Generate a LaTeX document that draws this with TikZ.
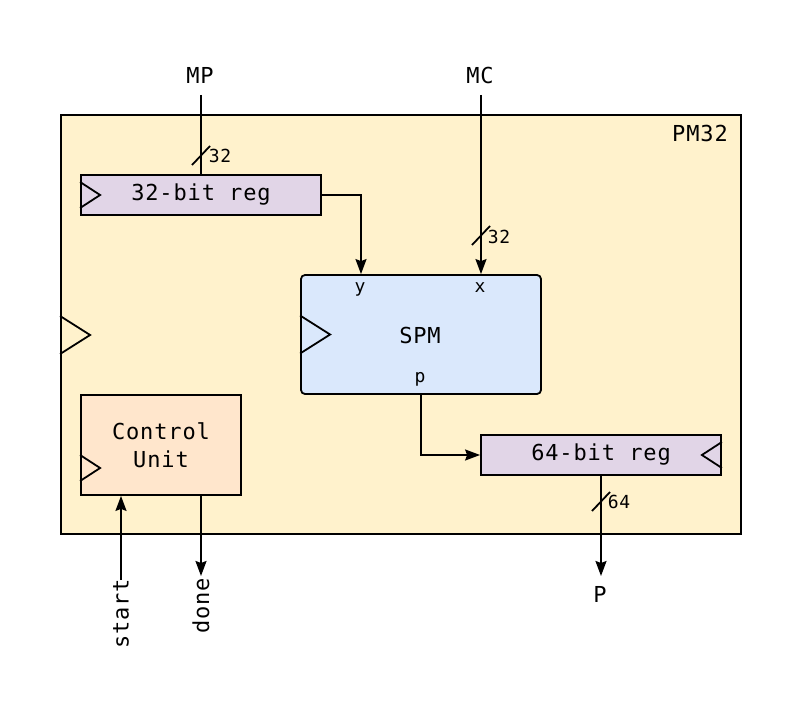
\documentclass[tikz,border=0pt]{standalone}
\usepackage{fontspec}
\newfontfamily\dmono[LetterSpace=4]{DejaVu Sans Mono}
\usetikzlibrary{arrows.meta,calc}
\definecolor{outerfill}{HTML}{FFF2CC}
\definecolor{regfill}{HTML}{E1D5E7}
\definecolor{spmfill}{HTML}{DAE8FC}
\definecolor{cufill}{HTML}{FFE6CC}
\begin{document}
\begin{tikzpicture}[x=1pt,y=-1pt,
  line width=1.8pt,
  big/.style={font=\dmono\fontsize{22}{28}\selectfont, inner sep=0pt},
  small/.style={font=\dmono\fontsize{18}{20}\selectfont, inner sep=0pt},
  blk/.style={draw=black, line width=1.8pt, inner sep=0pt, font=\dmono\fontsize{22}{28}\selectfont},
  arr/.style={-{Stealth[length=15pt,width=11pt,inset=2pt]}},
  clk/.style={line width=1.8pt, line join=miter}
]
\useasboundingbox (0,0) rectangle (802,714);

% outer block
\node[blk, fill=outerfill, minimum width=680pt, minimum height=419pt] (outer) at (401,324.5) {};
\node[big] (pm) at (700,133) {PM32};
\draw[clk] (outer.west) ++(0,-8.5) -- ++(30,19) -- ++(-30,19);

% registers and blocks
\node[blk, fill=regfill, minimum width=240pt, minimum height=40pt] (reg32) at (201,195) {32-bit reg};
\draw[clk] (reg32.west) ++(0,-13) -- ++(20,13) -- ++(-20,13);

\node[blk, fill=spmfill, rounded corners=4pt, minimum width=240pt, minimum height=119pt] (spm) at (421,334.5) {};
\node[big] (spmlbl) at (420,335) {SPM};
\node[small, anchor=base] (py) at (360,292) {y};
\node[small, anchor=base] (px) at (480,292) {x};
\node[small, anchor=base] (pp) at (420,382) {p};
\draw[clk] (spm.west) ++(0,-19) -- ++(30,19) -- ++(-30,19);

\node[blk, fill=regfill, minimum width=240pt, minimum height=40pt] (reg64) at (601,455) {64-bit reg};
\draw[clk] (reg64.east) ++(0,-13) -- ++(-20,13) -- ++(20,13);

\node[blk, fill=cufill, minimum width=160pt, minimum height=100pt, align=center] (cu) at (161,445) {Control\\Unit};
\draw[clk] (cu.west) ++(0,10) -- ++(20,13) -- ++(-20,13);

% external labels
\node[big] (mp) at (200,75) {MP};
\node[big] (mc) at (480,75) {MC};
\node[big] (pout) at (600,594) {P};
\node[big, rotate=90] (start) at (121,614) {start};
\node[big, rotate=90] (done) at (201,606) {done};

\coordinate (mpin) at (201,95);
\coordinate (mcin) at (481,95);
\coordinate (pend) at (601,576);
\coordinate (startin) at (121,580);
\coordinate (doneend) at (201,576);

% connectors
\draw (mpin) -- (reg32.north);
\draw[arr] (mcin) -- (mcin |- spm.north);
\draw[arr] (reg32.east) -| ([xshift=-60pt]spm.north);
\draw[arr] (spm.south) |- (reg64.west);
\draw[arr] (reg64.south) -- (pend);
\draw[arr] (startin) -- (startin |- cu.south);
\draw[arr] ([xshift=40pt]cu.south) -- (doneend);

% bus width marks
\draw (192,165) -- (210,146);
\node[small, anchor=west] (w1) at (208,156) {32};
\draw (472,245) -- (490,226);
\node[small, anchor=west] (w2) at (487,237) {32};
\draw (592,511) -- (610,492);
\node[small, anchor=west] (w3) at (607,502) {64};
\end{tikzpicture}
\end{document}
